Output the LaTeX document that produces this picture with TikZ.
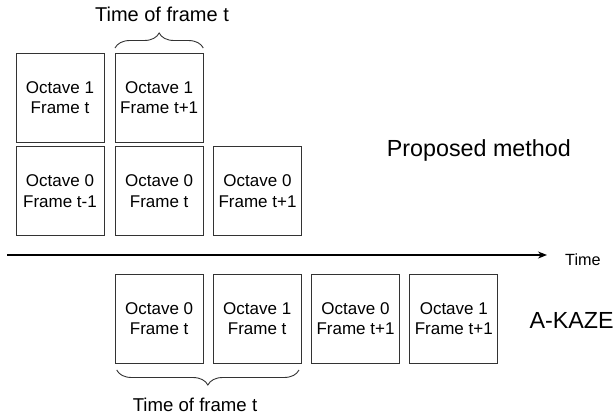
\documentclass[tikz,border=0pt]{standalone}
\usepackage{fontspec}
\setmainfont{Liberation Sans}
\usetikzlibrary{decorations.pathreplacing,arrows.meta}
\definecolor{edge}{HTML}{333333}
\tikzset{
  framebox/.style={draw=edge, line width=1pt, minimum width=88pt, minimum height=89pt,
    inner sep=0pt, align=center, font=\fontsize{17}{20.5}\selectfont},
  bracedeco/.style={draw=edge, line width=0.9pt, decorate,
    decoration={brace, amplitude=15pt, aspect=0.5}},
  lbl/.style={inner sep=0pt, text=black},
}
\begin{document}
\begin{tikzpicture}[x=1pt, y=-1pt]
\useasboundingbox (0,0) rectangle (616,416);
% Proposed method rows
\node[framebox] (t1) at (60,97.8) {Octave 1\\Frame t};
\node[framebox] (t2) at (159.2,97.8) {Octave 1\\Frame t+1};
\node[framebox] (m1) at (60,191.2) {Octave 0\\Frame t-1};
\node[framebox] (m2) at (159.2,191.2) {Octave 0\\Frame t};
\node[framebox] (m3) at (257.5,191.2) {Octave 0\\Frame t+1};
% A-KAZE row
\node[framebox] (a1) at (159.2,318.8) {Octave 0\\Frame t};
\node[framebox] (a2) at (257.2,318.8) {Octave 1\\Frame t};
\node[framebox] (a3) at (355.5,318.8) {Octave 0\\Frame t+1};
\node[framebox] (a4) at (453.8,318.8) {Octave 1\\Frame t+1};
% time axis
\coordinate (ts) at (7,255);
\coordinate (te) at (547,255);
\draw[line width=1.3pt, -{Stealth[length=9pt, width=7pt]}] (ts) -- (te);
\node[lbl, anchor=base west, font=\fontsize{16.2}{19}\selectfont] (time) at (565,265) {Time};
\node[lbl, anchor=base west, font=\fontsize{23.3}{27}\selectfont] (pm) at (386.7,156.7) {Proposed method};
\node[lbl, anchor=base west, font=\fontsize{23.3}{27}\selectfont] (ak) at (529.3,328) {A-KAZE};
% braces
\coordinate (bt1) at (115,48);
\coordinate (bt2) at (203.3,48);
\draw[bracedeco] (bt1) -- (bt2);
\node[lbl, anchor=base, font=\fontsize{20}{24}\selectfont] (lt) at (162,21) {Time of frame t};
\coordinate (bb1) at (299,370);
\coordinate (bb2) at (116.7,370);
\draw[bracedeco] (bb1) -- (bb2);
\node[lbl, anchor=base, font=\fontsize{18.6}{22}\selectfont] (lb) at (195,411.5) {Time of frame t};
\end{tikzpicture}
\end{document}
